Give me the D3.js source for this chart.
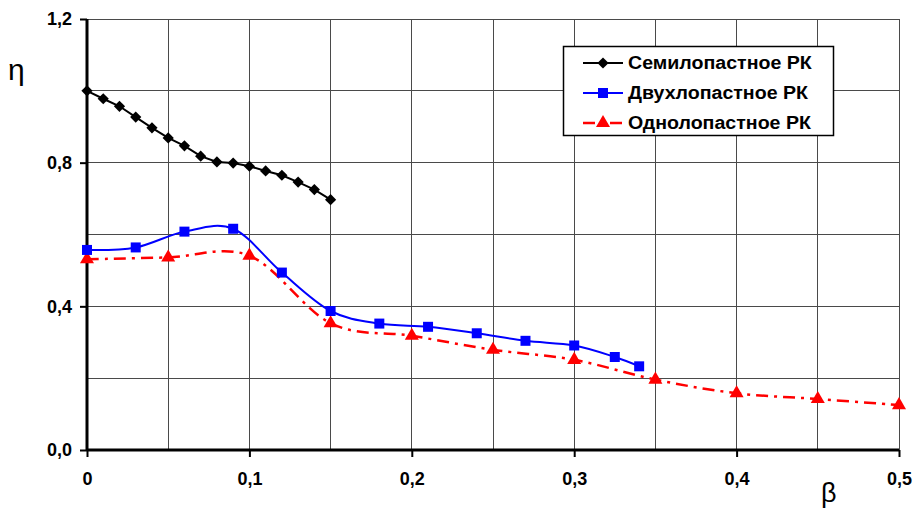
<!DOCTYPE html>
<html><head><meta charset="utf-8">
<script src="https://cdn.jsdelivr.net/npm/d3@7"></script>
<style>body{margin:0;background:#fff}svg{display:block}</style>
</head><body>
<svg id="c" width="915" height="512"></svg>
<script>
const xTicksGrid = [0,0.05,0.1,0.15,0.2,0.25,0.3,0.35,0.4,0.45,0.5];
const xTickLabels = [0,0.1,0.2,0.3,0.4,0.5];
const yTicksGrid = [0,0.2,0.4,0.6,0.8,1.0,1.2];
const yTickLabels = [0,0.4,0.8,1.2];

const seriesNames = ["Семилопастное РК","Двухлопастное РК","Однолопастное РК"];

const semiX = [0,0.01,0.02,0.03,0.04,0.05,0.06,0.07,0.08,0.09,0.10,0.11,0.12,0.13,0.14,0.15];
const semiY = [1.0,0.978,0.957,0.927,0.897,0.869,0.847,0.818,0.802,0.799,0.790,0.777,0.765,0.746,0.725,0.697];

const dvuX = [0,0.03,0.06,0.09,0.12,0.15,0.18,0.21,0.24,0.27,0.30,0.325,0.34];
const dvuY = [0.557,0.564,0.608,0.616,0.494,0.387,0.352,0.343,0.325,0.304,0.291,0.259,0.233];

const odnX = [0,0.05,0.1,0.15,0.2,0.25,0.3,0.35,0.4,0.45,0.5];
const odnY = [0.531,0.536,0.541,0.353,0.318,0.279,0.251,0.196,0.158,0.142,0.125];

const svg = d3.select("#c");
const x = d3.scaleLinear().domain([0,0.5]).range([87,899]);
const y = d3.scaleLinear().domain([0,1.2]).range([450,19]);
const fmt = v => d3.format(".1f")(v).replace(".", ",");
const fmtX = v => v===0 ? "0" : d3.format(".1f")(v).replace(".", ",");
const FONT = "'Liberation Sans', Arial, sans-serif";

// grid
svg.append("g").selectAll("line").data(xTicksGrid).join("line")
  .attr("x1",d=>x(d)).attr("x2",d=>x(d)).attr("y1",y(1.2)).attr("y2",y(0))
  .attr("stroke","#4a4a4a").attr("stroke-width",1).attr("shape-rendering","crispEdges");
svg.append("g").selectAll("line").data(yTicksGrid).join("line")
  .attr("x1",x(0)).attr("x2",x(0.5)).attr("y1",d=>y(d)).attr("y2",d=>y(d))
  .attr("stroke","#4a4a4a").attr("stroke-width",1).attr("shape-rendering","crispEdges");

// axes
const yAxis = d3.axisLeft(y).tickValues(yTickLabels).tickFormat(fmt).tickSize(7).tickPadding(8);
const gy = svg.append("g").attr("transform",`translate(${x(0)},0)`).call(yAxis);
const xAxis = d3.axisBottom(x).tickValues(xTickLabels).tickFormat(fmtX).tickSize(7).tickPadding(15);
const gx = svg.append("g").attr("transform",`translate(0,${y(0)})`).call(xAxis);
[gx,gy].forEach(g=>{
  g.select(".domain").attr("stroke","#000").attr("stroke-width",3);
  g.selectAll(".tick line").attr("stroke","#000").attr("stroke-width",2);
  g.selectAll(".tick text").attr("fill","#000")
    .style("font-family",FONT).style("font-weight","bold").style("font-size","18px");
});
gy.select(".domain").attr("d",`M0,${y(1.2)}V${y(0)}`);
gx.select(".domain").attr("d",`M${x(0)},0H${x(0.5)}`);

// axis titles
svg.append("text").attr("x",8).attr("y",80).text("η")
  .style("font-family",FONT).style("font-size","30px");
svg.append("text").attr("x",821).attr("y",502).text("β")
  .style("font-family",FONT).style("font-size","27px");

// series
const semi = semiX.map((v,i)=>[v,semiY[i]]);
const dvu = dvuX.map((v,i)=>[v,dvuY[i]]);
const odn = odnX.map((v,i)=>[v,odnY[i]]);

const lineLin = d3.line().x(d=>x(d[0])).y(d=>y(d[1]));
const lineSm = d3.line().x(d=>x(d[0])).y(d=>y(d[1])).curve(d3.curveCardinal.tension(0));

svg.append("path").attr("d",lineSm(odn)).attr("fill","none").attr("stroke","#ff0000")
  .attr("stroke-width",2.5).attr("stroke-dasharray","12,6,3,6");
svg.append("path").attr("d",lineSm(dvu)).attr("fill","none").attr("stroke","#0000ff")
  .attr("stroke-width",2);
svg.append("path").attr("d",lineLin(semi)).attr("fill","none").attr("stroke","#000")
  .attr("stroke-width",2);

const diamond = d3.symbol().type(d3.symbolDiamond2).size(80);
const square = d3.symbol().type(d3.symbolSquare).size(100);
const triangle = d3.symbol().type(d3.symbolTriangle).size(85);

svg.append("g").selectAll("path").data(odn).join("path")
  .attr("d",triangle).attr("transform",d=>`translate(${x(d[0])},${y(d[1])})`).attr("fill","#ff0000");
svg.append("g").selectAll("path").data(dvu).join("path")
  .attr("d",square).attr("transform",d=>`translate(${x(d[0])},${y(d[1])})`).attr("fill","#0000ff");
svg.append("g").selectAll("path").data(semi).join("path")
  .attr("d",diamond).attr("transform",d=>`translate(${x(d[0])},${y(d[1])})`).attr("fill","#000");

// legend
const lg = svg.append("g");
lg.append("rect").attr("x",563.5).attr("y",46.5).attr("width",270).attr("height",89)
  .attr("fill","#fff").attr("stroke","#000").attr("stroke-width",1.5);
const legendRows = [
  {name:seriesNames[0], color:"#000", sym:diamond, dash:null, w:2},
  {name:seriesNames[1], color:"#0000ff", sym:square, dash:null, w:2},
  {name:seriesNames[2], color:"#ff0000", sym:triangle, dash:"12,6,3,6", w:2.5}
];
const texts = [];
legendRows.forEach((r,i)=>{
  const cy = 63 + i*30;
  lg.append("line").attr("x1",583).attr("x2",623).attr("y1",cy).attr("y2",cy)
    .attr("stroke",r.color).attr("stroke-width",r.w).attr("stroke-dasharray",r.dash);
  lg.append("path").attr("d",r.sym).attr("transform",`translate(603,${cy})`).attr("fill",r.color);
  const t = lg.append("text").attr("x",0).attr("y",0).attr("dy","0.36em").text(r.name)
    .style("font-family",FONT).style("font-weight","bold").style("font-size","18px");
  texts.push([t,cy]);
});
const w0 = texts[0][0].node().getComputedTextLength();
const sx = 184 / w0;
texts.forEach(([t,cy])=>t.attr("transform",`translate(628,${cy}) scale(${sx},1)`));
</script>
</body></html>
